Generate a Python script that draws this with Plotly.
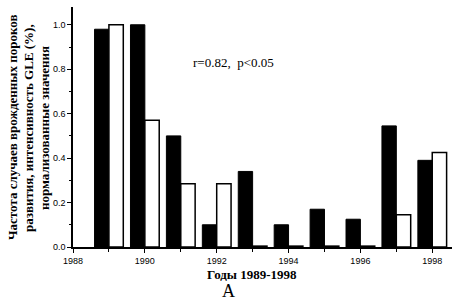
import plotly.graph_objects as go

years = [1989, 1990, 1991, 1992, 1993, 1994, 1995, 1996, 1997, 1998]
malformations = [0.98, 1.0, 0.50, 0.10, 0.34, 0.10, 0.17, 0.125, 0.545, 0.39]
gle_intensity = [1.0, 0.57, 0.285, 0.285, 0.004, 0.004, 0.004, 0.004, 0.145, 0.425]
y_ticks = [0.0, 0.2, 0.4, 0.6, 0.8, 1.0]
x_ticks = [1988, 1990, 1992, 1994, 1996, 1998]

fig = go.Figure()
fig.add_trace(go.Bar(x=years, y=malformations, marker=dict(color="black", line=dict(color="black", width=1)), showlegend=False))
fig.add_trace(go.Bar(x=years, y=gle_intensity, marker=dict(color="white", line=dict(color="black", width=1.5)), showlegend=False))

W, H = 455, 300
L, R, T, B = 73, 3, 7, 53
pw = W - L - R
ph = H - T - B

def px(x):
    return (x - L) / pw

def py(y):
    return (H - B - y) / ph

fig.update_layout(
    width=W, height=H,
    margin=dict(l=L, r=R, t=T, b=B, autoexpand=False),
    paper_bgcolor="white", plot_bgcolor="white",
    barmode="group", bargap=0.2, bargroupgap=0.0,
    font=dict(family="Liberation Sans", size=9, color="black"),
)
fig.update_xaxes(
    range=[1988, 1998.55], tickvals=x_ticks, ticktext=[str(v) for v in x_ticks],
    showline=True, linecolor="black", linewidth=1.5, showgrid=False, zeroline=False,
    ticks="outside", ticklen=4, tickwidth=1, tickcolor="black", automargin=False,
    minor=dict(dtick=1, tick0=1988, ticks="outside", ticklen=3, tickcolor="black"),
    tickfont=dict(family="Liberation Sans", size=9),
)
fig.update_yaxes(
    range=[0, 1.08], tickvals=y_ticks, ticktext=[f"{v:.1f}" for v in y_ticks],
    showline=True, linecolor="black", linewidth=1.5, showgrid=False, zeroline=False,
    ticks="outside", ticklen=4, tickwidth=1, tickcolor="black", automargin=False,
    minor=dict(dtick=0.1, tick0=0, ticks="outside", ticklen=2, tickcolor="black"),
    tickfont=dict(family="Liberation Sans", size=9),
)

serif = "Liberation Serif"
ylines = ["Частота случаев врожденных пороков", "развития, интенсивность GLE (%),", "нормализованные значения"]
for xp, txt in zip([12, 28, 44], ylines):
    fig.add_annotation(xref="paper", yref="paper", x=px(xp), y=py(128), text=f"<b>{txt}</b>",
                       textangle=-90, showarrow=False, xanchor="center", yanchor="middle",
                       font=dict(family=serif, size=13, color="black"))

fig.add_annotation(xref="paper", yref="paper", x=px(252), y=py(274), text="<b>Годы 1989-1998</b>",
                   showarrow=False, xanchor="center", yanchor="middle", font=dict(family=serif, size=13, color="black"))
fig.add_annotation(xref="paper", yref="paper", x=px(228), y=py(279), text="А",
                   showarrow=False, xanchor="center", yanchor="top", font=dict(family=serif, size=18, color="black"))
fig.add_annotation(xref="paper", yref="paper", x=px(233), y=py(63), text="r=0.82,  p<0.05",
                   showarrow=False, xanchor="center", yanchor="middle", font=dict(family=serif, size=13, color="black"))

fig.write_html("out.html", config={"displayModeBar": False},
               post_script="document.body.style.margin='0';document.body.style.padding='0';")
